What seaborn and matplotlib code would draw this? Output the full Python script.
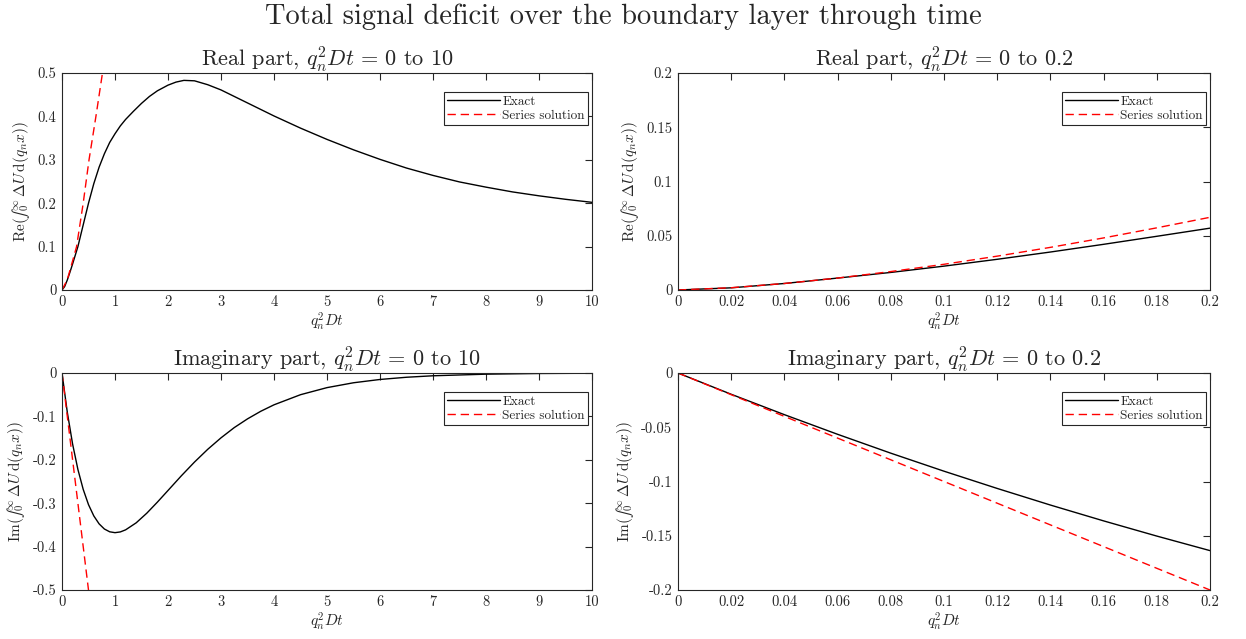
import numpy as np
import pandas as pd
import matplotlib
matplotlib.use('Agg')
import matplotlib.pyplot as plt
from matplotlib.ticker import FuncFormatter
import seaborn as sns

# values
# real part, q^2 D t = 0 to 10
t_re_full = [0, 0.05, 0.1, 0.15, 0.2, 0.25, 0.3, 0.4, 0.5, 0.6, 0.7, 0.8, 0.9, 1.0, 1.1, 1.2, 1.35,
             1.5, 1.65, 1.8, 2.0, 2.15, 2.3, 2.5, 2.75, 3.0, 3.25, 3.5, 3.75, 4.0, 4.25, 4.5, 4.75,
             5.0, 5.5, 6.0, 6.5, 7.0, 7.5, 8.0, 8.5, 9.0, 9.5, 10.0]
re_exact_full = [0, 0.008, 0.023, 0.041, 0.06, 0.08, 0.1, 0.15, 0.2, 0.245, 0.283, 0.314, 0.34, 0.36,
                 0.378, 0.393, 0.412, 0.43, 0.446, 0.459, 0.472, 0.479, 0.483, 0.482, 0.473, 0.461,
                 0.446, 0.431, 0.416, 0.401, 0.387, 0.373, 0.36, 0.347, 0.323, 0.301, 0.281, 0.264,
                 0.249, 0.237, 0.226, 0.217, 0.209, 0.202]
t_re_series_full = [0, 0.1, 0.2, 0.275, 0.4, 0.51, 0.64, 0.76]
re_series_full = [0, 0.024, 0.067, 0.1, 0.2, 0.3, 0.4, 0.497]

# real part, q^2 D t = 0 to 0.2
t_small = [0, 0.02, 0.04, 0.06, 0.08, 0.1, 0.12, 0.14, 0.16, 0.18, 0.2]
re_exact_small = [0, 0.002, 0.006, 0.011, 0.0162, 0.022, 0.0283, 0.035, 0.0421, 0.0495, 0.057]
re_series_small = [0, 0.0021, 0.006, 0.011, 0.017, 0.0237, 0.0312, 0.0393, 0.048, 0.0573, 0.067]

# imaginary part, q^2 D t = 0 to 10
t_im_full = [0, 0.1, 0.2, 0.3, 0.4, 0.5, 0.6, 0.7, 0.8, 0.9, 1.0, 1.1, 1.2, 1.4, 1.6, 1.8, 2.0, 2.25,
             2.5, 2.75, 3.0, 3.25, 3.5, 3.75, 4.0, 4.5, 5.0, 5.5, 6.0, 6.5, 7.0, 8.0, 9.0, 10.0]
im_exact_full = [0, -0.0905, -0.1637, -0.2222, -0.2681, -0.3033, -0.3293, -0.3476, -0.3595, -0.3659,
                 -0.3679, -0.3662, -0.3614, -0.3452, -0.323, -0.2975, -0.2707, -0.2371, -0.2052,
                 -0.1758, -0.1494, -0.1258, -0.1057, -0.0882, -0.0733, -0.05, -0.0337, -0.0225,
                 -0.0149, -0.0098, -0.0064, -0.0027, -0.0011, -0.0005]
t_im_series_full = [0, 0.5]
im_series_full = [0, -0.5]

# imaginary part, q^2 D t = 0 to 0.2
im_exact_small = [0, -0.0196, -0.0384, -0.0565, -0.0739, -0.0905, -0.1064, -0.1217, -0.1363, -0.1503, -0.1637]
im_series_small = [0, -0.02, -0.04, -0.06, -0.08, -0.1, -0.12, -0.14, -0.16, -0.18, -0.2]

sns.set_style('white')
plt.rcParams['font.family'] = 'serif'
plt.rcParams['font.serif'] = ['cmr10']
plt.rcParams['mathtext.fontset'] = 'cm'
plt.rcParams['axes.unicode_minus'] = False
plt.rcParams['axes.formatter.use_mathtext'] = True


def make_df(t_exact, y_exact, t_series, y_series):
    a = pd.DataFrame({'t': t_exact, 'y': y_exact, 'Curve': 'Exact'})
    b = pd.DataFrame({'t': t_series, 'y': y_series, 'Curve': 'Series solution'})
    return pd.concat([a, b], ignore_index=True)


def ticks(a, b, step):
    return np.round(np.arange(a, b + step / 2, step), 6) + 0.0


re_lab = '$\\mathrm{Re}(\u222b_0^\\infty\\,\\Delta U\\,\\mathrm{d}(q_nx))$'
im_lab = '$\\mathrm{Im}(\u222b_0^\\infty\\,\\Delta U\\,\\mathrm{d}(q_nx))$'

panels = [
    (make_df(t_re_full, re_exact_full, t_re_series_full, re_series_full),
     r'Real part, $q_n^2Dt\,=\,0$ to 10', (0, 10), (0, 0.5), ticks(0, 10, 1), ticks(0, 0.5, 0.1), re_lab),
    (make_df(t_small, re_exact_small, t_small, re_series_small),
     r'Real part, $q_n^2Dt\,=\,0$ to 0.2', (0, 0.2), (0, 0.2), ticks(0, 0.2, 0.02), ticks(0, 0.2, 0.05), re_lab),
    (make_df(t_im_full, im_exact_full, t_im_series_full, im_series_full),
     r'Imaginary part, $q_n^2Dt\,=\,0$ to 10', (0, 10), (-0.5, 0), ticks(0, 10, 1), ticks(-0.5, 0, 0.1), im_lab),
    (make_df(t_small, im_exact_small, t_small, im_series_small),
     r'Imaginary part, $q_n^2Dt\,=\,0$ to 0.2', (0, 0.2), (-0.2, 0), ticks(0, 0.2, 0.02), ticks(-0.2, 0, 0.05), im_lab),
]

W, H = 1246, 639
fig = plt.figure(figsize=(W / 100, H / 100), dpi=100)
boxes = [(62, 73, 592, 290), (678, 73, 1210, 290), (62, 373, 592, 590), (678, 373, 1210, 590)]

fmt = FuncFormatter(lambda v, p: '%g' % (round(v, 6) + 0.0))

for (df, title, xl, yl, xt, yt, ylab), (x0, y0, x1, y1) in zip(panels, boxes):
    ax = fig.add_axes([x0 / W, 1 - y1 / H, (x1 - x0) / W, (y1 - y0) / H])
    sns.lineplot(data=df, x='t', y='y', hue='Curve', style='Curve',
                 palette={'Exact': 'black', 'Series solution': 'red'},
                 dashes={'Exact': '', 'Series solution': (6, 3.5)},
                 linewidth=1.0, sort=False, estimator=None, ax=ax)
    ax.set_xlim(xl)
    ax.set_ylim(yl)
    ax.set_xticks(xt)
    ax.set_yticks(yt)
    ax.xaxis.set_major_formatter(fmt)
    ax.yaxis.set_major_formatter(fmt)
    ax.tick_params(direction='in', length=5, width=0.8, top=True, right=True,
                   labelsize=10.5, colors='#262626', pad=4)
    for s in ax.spines.values():
        s.set_visible(True)
        s.set_linewidth(0.8)
        s.set_color('#262626')
    ax.set_title(title, fontsize=16, pad=5)
    ax.set_xlabel(r'$q_n^2Dt$', fontsize=11, labelpad=1)
    ax.set_ylabel(ylab, fontsize=11, labelpad=4)
    h, l = ax.get_legend_handles_labels()
    leg = ax.legend(h, l, loc='upper right', bbox_to_anchor=(0.993, 0.912), borderaxespad=0,
                    fontsize=9.5, handlelength=4.0, handletextpad=0.2, labelspacing=0.15,
                    borderpad=0.25, fancybox=False, frameon=True, framealpha=1)
    leg.get_frame().set_edgecolor('#262626')
    leg.get_frame().set_linewidth(0.8)

fig.suptitle('Total signal deficit over the boundary layer through time', fontsize=20.5, y=1 - 17 / H, va='center')

fig.savefig('out.png', dpi=100)
